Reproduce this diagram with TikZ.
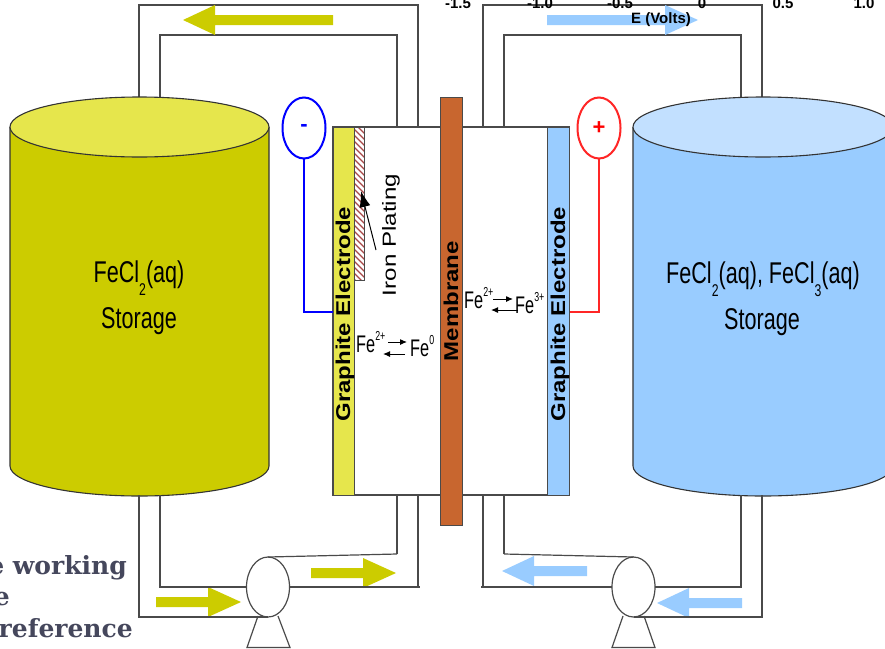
\documentclass[tikz,border=0pt]{standalone}
\usepackage{fontspec}
\setmainfont{Liberation Sans}
\newfontfamily\cutoffserif{DejaVu Serif}
\usetikzlibrary{shapes.geometric,arrows.meta}
\definecolor{olivebody}{HTML}{CCCC00}
\definecolor{olivetop}{HTML}{E6E64C}
\definecolor{skybody}{HTML}{99CCFF}
\definecolor{skytop}{HTML}{C2E0FF}
\definecolor{membranebrown}{HTML}{C8662F}
\definecolor{pipegray}{HTML}{4A4A4A}
\definecolor{slateink}{HTML}{45475C}
\definecolor{platingred}{HTML}{A84848}
\newcommand{\squeezed}[3]{\scalebox{#1}[1]{\fontsize{#2}{#2}\selectfont #3}}
\newcommand{\lowidx}[1]{\raisebox{-0.42em}{\fontsize{17}{17}\selectfont #1}}
\newcommand{\smallsup}[1]{\raisebox{0.5em}{\fontsize{13}{13}\selectfont #1}}
\tikzset{
  pipe/.style={draw=pipegray,line width=1.2pt},
  pump/.style={ellipse,draw=pipegray,line width=1.2pt,fill=white,minimum width=43pt,minimum height=60pt,inner sep=0pt,outer sep=0pt},
  terminal/.style={ellipse,line width=2pt,fill=white,minimum width=43pt,minimum height=61pt,inner sep=0pt,outer sep=0pt},
  plate/.style={rectangle,draw=pipegray,line width=1pt,inner sep=0pt,anchor=north west},
  tank/.style={draw=black!80,line width=1.1pt},
  tanktext/.style={anchor=base,inner sep=0pt},
  ticklabel/.style={anchor=base,font=\bfseries\fontsize{15}{15}\selectfont,inner sep=0pt},
  reaction/.style={anchor=base west,inner sep=0pt},
  reactarrow/.style={-{Latex[length=7pt,width=6pt]},line width=1pt},
  captionline/.style={anchor=base east,inner sep=0pt,text=slateink,font=\cutoffserif\bfseries\fontsize{25}{25}\selectfont}
}
\begin{document}
\begin{tikzpicture}[x=1pt,y=-1pt]
\useasboundingbox (0,0) rectangle (885,648);
% upper pipes
\draw[pipe] (139,110) -- (139,5) -- (418,5) -- (418,127);
\draw[pipe] (160,110) -- (160,35) -- (397,35) -- (397,127);
\draw[pipe] (483,127) -- (483,5) -- (762,5) -- (762,110);
\draw[pipe] (504,127) -- (504,35) -- (741,35) -- (741,110);
% flow arrows
\foreach \tip/\head/\tail/\mid/\col in {183/215/333/20/olivebody,241/208/156/602/olivebody,396/363/311/573/olivebody,698/665/547/20/skybody,502/534/587/571/skybody,657/689/742/603/skybody}
  \fill[\col] (\tip,\mid) -- (\head,\mid-15) -- (\head,\mid-5) -- (\tail,\mid-5) -- (\tail,\mid+5) -- (\head,\mid+5) -- (\head,\mid+15) -- cycle;
% tanks
\fill[olivebody] (10,127) -- (10,466) arc[start angle=180,end angle=0,x radius=129.5,y radius=30] -- (269,127) -- cycle;
\draw[tank] (10,127) -- (10,466) arc[start angle=180,end angle=0,x radius=129.5,y radius=30] -- (269,127);
\draw[tank,fill=olivetop] (139.5,127) ellipse[x radius=129.5,y radius=30];
\fill[skybody] (633,127) -- (633,466) arc[start angle=180,end angle=0,x radius=130,y radius=30] -- (893,127) -- cycle;
\draw[tank] (633,127) -- (633,466) arc[start angle=180,end angle=0,x radius=130,y radius=30] -- (893,127);
\draw[tank,fill=skytop] (763,127) ellipse[x radius=130,y radius=30];
\node[tanktext] at (139,282.5) {\squeezed{0.72}{30}{FeCl\lowidx{2}(aq)}};
\node[tanktext] at (139,328) {\squeezed{0.72}{30}{Storage}};
\node[tanktext] at (763,283.5) {\squeezed{0.72}{30}{FeCl\lowidx{2}(aq), FeCl\lowidx{3}(aq)}};
\node[tanktext] at (762,329) {\squeezed{0.72}{30}{Storage}};
% cell
\draw[pipe,fill=white] (333,127) rectangle (569,495);
\node[plate,fill=olivetop,minimum width=21pt,minimum height=368pt] (anode) at (333,127) {};
\node[plate,fill=skybody,minimum width=22pt,minimum height=368pt] (cathode) at (547,127) {};
\begin{scope}
\clip (354,127) rectangle (364,280);
\foreach \y in {115,121,...,280}
  \draw[platingred,line width=1.3pt] (352,\y) -- (366,\y+14);
\end{scope}
\draw[pipegray,line width=1pt] (354,127) rectangle (364,280);
\node[plate,fill=membranebrown,minimum width=22pt,minimum height=428pt] (membrane) at (440,97) {};
\node[rotate=90] (anodelabel) at (345,314) {\bfseries\scalebox{1.2}[1]{\fontsize{20}{20}\selectfont Graphite Electrode}};
\node[rotate=90] (cathodelabel) at (560,314) {\bfseries\scalebox{1.2}[1]{\fontsize{20}{20}\selectfont Graphite Electrode}};
\node[rotate=90] (membranelabel) at (451,301) {\bfseries\scalebox{1.2}[1]{\fontsize{20}{20}\selectfont Membrane}};
\node[rotate=90] (platinglabel) at (391,235) {\scalebox{1.27}[1]{\fontsize{19}{19}\selectfont Iron Plating}};
\coordinate (pointerstart) at (376,250);
\coordinate (pointertip) at (361,191);
\draw[-{Latex[length=16pt,width=11pt]},line width=1pt,black] (pointerstart) -- (pointertip);
% reactions
\node[reaction] (feA) at (356,352) {\squeezed{0.68}{24}{Fe\smallsup{2+}}};
\node[reaction] (feB) at (410,356) {\squeezed{0.68}{24}{Fe\smallsup{0}}};
\draw[reactarrow] ([xshift=-22pt,yshift=14pt]feB.base west) -- ([xshift=-3pt,yshift=14pt]feB.base west);
\draw[reactarrow] ([xshift=-5pt,yshift=2pt]feB.base west) -- ([xshift=-27pt,yshift=2pt]feB.base west);
\node[reaction] (feC) at (464,308) {\squeezed{0.68}{24}{Fe\smallsup{2+}}};
\node[reaction] (feD) at (515,313) {\squeezed{0.68}{24}{Fe\smallsup{3+}}};
\draw[reactarrow] ([xshift=-22pt,yshift=14pt]feD.base west) -- ([xshift=-2pt,yshift=14pt]feD.base west);
\draw[reactarrow] ([xshift=3pt,yshift=3pt]feD.base west) -- ([xshift=-24pt,yshift=3pt]feD.base west);
% terminals
\node[terminal,draw=blue] (minus) at (304,128) {\raisebox{-3pt}{\bfseries\textcolor{blue}{\fontsize{22}{22}\selectfont -}}};
\node[terminal,draw=red!85!white] (plus) at (599,128) {\raisebox{-1pt}{\bfseries\textcolor{red}{\fontsize{22}{22}\selectfont +}}};
\draw[blue,line width=2pt] (minus.south) |- (anode.west |- 0,312);
\draw[red!85!white,line width=2pt] (plus.south) |- (cathode.east |- 0,312);
% lower pipes and pumps
\node[pump] (pumpL) at (268,587) {};
\node[pump] (pumpR) at (633.5,587) {};
\draw[pipe] (139,495) -- (139,617) -- (pumpL.south);
\draw[pipe] (160,495) -- (160,587) -- (pumpL.west);
\draw[pipe] (397,495) -- (397,554);
\draw[pipe] (pumpL.north) -- (397,554);
\draw[pipe] (pumpL.east) -- (420,587);
\draw[pipe] (418,495) -- (418,587);
\draw[pipe] (504,495) -- (504,554);
\draw[pipe] (504,554) -- (pumpR.north);
\draw[pipe] (483,495) -- (483,587);
\draw[pipe] (481,587) -- (pumpR.west);
\draw[pipe] (pumpR.east) -- (741,587) -- (741,495);
\draw[pipe] (pumpR.south) -- (762,617) -- (762,495);
\draw[pipe] (258,616) -- (247,647.5) -- (290,647.5) -- (278,616);
\draw[pipe] (623,616) -- (612,647.5) -- (655,647.5) -- (644,616);
% axis labels
\foreach \val/\xpos in {-1.5/458,-1.0/540,-0.5/620,0/702,0.5/783,1.0/864}
  \node[ticklabel] (tick\xpos) at (\xpos,8.5) {\val};
\node[ticklabel] (axislabel) at (661,23) {E (Volts)};
% cut off caption
\node[captionline] (capA) at (127,574) {e working};
\node[captionline] (capB) at (10,605) {e};
\node[captionline] (capC) at (133,637) {reference};
\end{tikzpicture}
\end{document}
